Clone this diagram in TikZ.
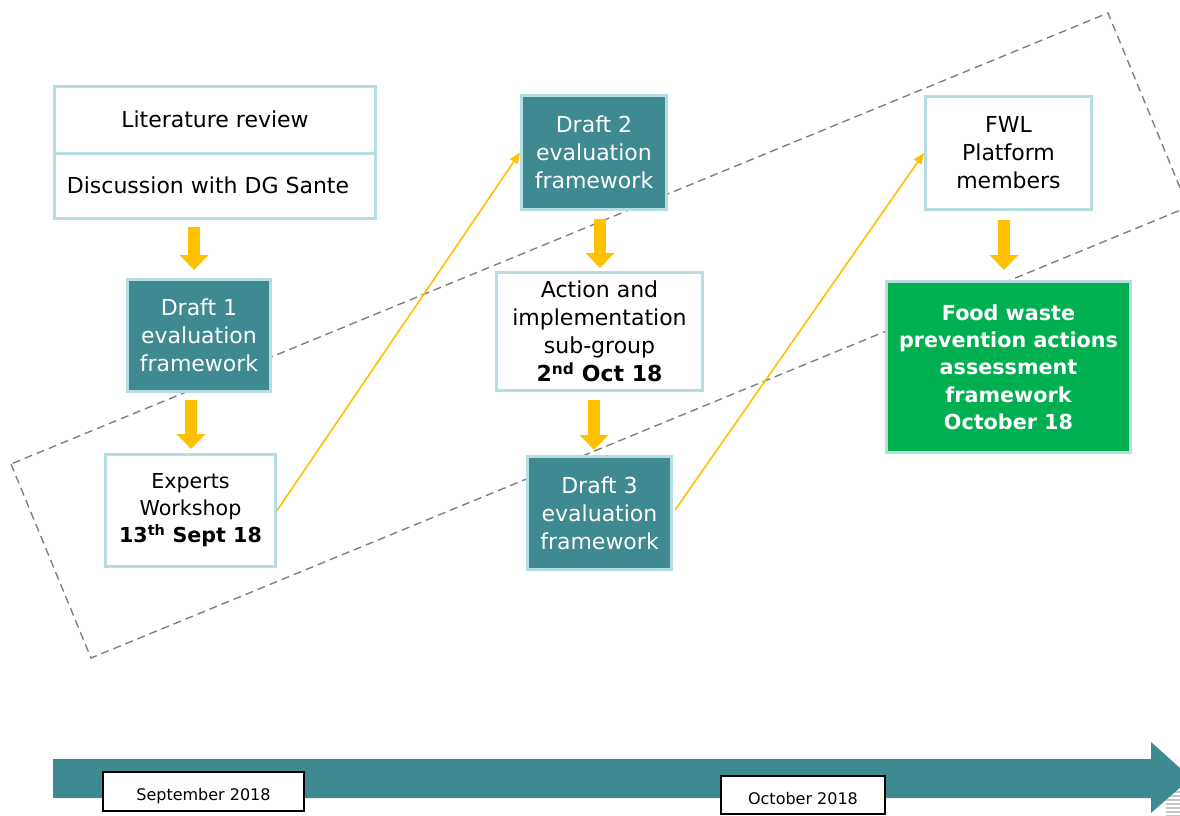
\documentclass[tikz,border=0pt]{standalone}
\usepackage{fontspec}
\setmainfont{DejaVu Sans}
\usetikzlibrary{arrows.meta}

\definecolor{edgeblue}{HTML}{B6DDE1}
\definecolor{tealbox}{HTML}{3E8A90}
\definecolor{arrowyellow}{HTML}{FFC000}
\definecolor{foodgreen}{HTML}{00B050}
\definecolor{dashgray}{HTML}{808080}

\begin{document}
\begin{tikzpicture}[x=1pt,y=-1pt,
  lbox/.style={draw=edgeblue, line width=3pt, fill=white, align=center,
    inner sep=0pt, font=\fontsize{22}{28}\selectfont},
  dbox/.style={lbox, fill=tealbox, text=white},
  gbox/.style={lbox, fill=foodgreen, text=white,
    font=\fontsize{20.7}{27.3}\selectfont\bfseries},
  datebox/.style={draw=black, line width=1.3pt, fill=white, inner sep=0pt,
    font=\fontsize{16}{18}\selectfont, text height=18pt, text depth=0pt},
  blockarrow/.style={draw=arrowyellow, line width=12pt,
    -{Triangle[width=28pt,length=15pt]}},
  thinarrow/.style={draw=arrowyellow, line width=1.6pt,
    -{Triangle[width=9pt,length=11pt]}},
  dashframe/.style={draw=dashgray, line width=1.4pt, dash pattern=on 8pt off 5pt}
]
\useasboundingbox (0,0) rectangle (1180,816);

% tilted dashed frame and the timeline, cut off at the page edge
\begin{scope}
  \clip (0,0) rectangle (1180,816);
  \draw[dashframe] (11,464) -- (91,658) -- (1188,207) -- (1108,13) -- cycle;
  \foreach \yy in {792,796,...,816}
    \draw[gray!45, line width=2pt] (1166,\yy) -- (1180,\yy);
  \fill[tealbox] (53,759) -- (1151,759) -- (1151,742) -- (1191,778)
    -- (1151,813) -- (1151,798) -- (53,798) -- cycle;
\end{scope}

% boxes
\node[lbox, minimum width=321pt, minimum height=67pt] (lit) at (215,119.5) {Literature review};
\node[lbox, minimum width=321pt, minimum height=65pt] (disc) at (215,185.5) {Discussion with DG Sante\hspace*{14pt}};
\node[dbox, minimum width=143pt, minimum height=112pt] (d1) at (199,335.5) {Draft 1\\evaluation\\framework};
\node[lbox, minimum width=170pt, minimum height=112pt, font=\fontsize{20.6}{27}\selectfont] (exp) at (190.5,510.5)
  {Experts\\Workshop\\\textbf{13\textsuperscript{th} Sept 18}};
\node[dbox, minimum width=145pt, minimum height=114pt] (d2) at (594,152.5) {Draft 2\\evaluation\\framework};
\node[lbox, minimum width=206pt, minimum height=118pt] (act) at (599.5,331.5)
  {Action and\\implementation\\sub-group\\\textbf{2\textsuperscript{nd} Oct 18}};
\node[dbox, minimum width=144pt, minimum height=113pt] (d3) at (599.5,513) {Draft 3\\evaluation\\framework};
\node[lbox, minimum width=166pt, minimum height=113pt] (fwl) at (1008.5,153) {FWL\\Platform\\members};
\node[gbox, minimum width=244pt, minimum height=171pt] (food) at (1008.5,367)
  {Food waste\\prevention actions\\assessment\\framework\\October 18};

% dates on the timeline
\node[datebox, minimum width=201pt, minimum height=39pt] (sep) at (203.5,791.5) {September 2018};
\node[datebox, minimum width=164pt, minimum height=38pt] (oct) at (803,795) {October 2018};

% block arrows between stages
\coordinate (c1) at (194,0);
\coordinate (c2) at (191,0);
\coordinate (c3) at (600,0);
\coordinate (c4) at (594,0);
\coordinate (c5) at (1004,0);
\draw[blockarrow, shorten <=7pt, shorten >=8pt] (c1 |- disc.south) -- (c1 |- d1.north);
\draw[blockarrow, shorten <=7pt, shorten >=4pt] (c2 |- d1.south) -- (c2 |- exp.north);
\draw[blockarrow, shorten <=8pt, shorten >=3pt] (c3 |- d2.south) -- (c3 |- act.north);
\draw[blockarrow, shorten <=8pt, shorten >=5pt] (c4 |- act.south) -- (c4 |- d3.north);
\draw[blockarrow, shorten <=9pt, shorten >=10pt] (c5 |- fwl.south) -- (c5 |- food.north);

% feedback links
\draw[thinarrow] (exp.east) -- (d2.west);
\draw[thinarrow, shorten <=4pt] (d3.east) -- (fwl.west);
\end{tikzpicture}
\end{document}
